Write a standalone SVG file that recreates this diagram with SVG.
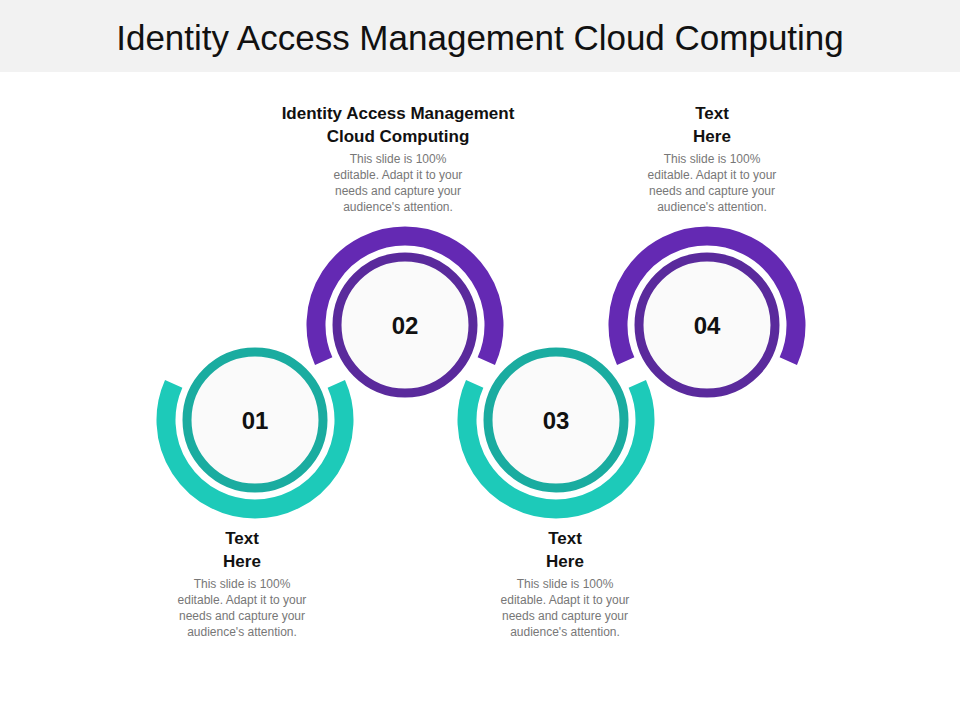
<svg xmlns="http://www.w3.org/2000/svg" width="960" height="720" viewBox="0 0 960 720">
<style>
.t{font-family:"Liberation Sans",Arial,sans-serif;text-anchor:middle}
.h{font-size:17px;font-weight:bold;fill:#111}
.b{font-size:12px;fill:#777}
.n{font-size:24px;font-weight:bold;fill:#111}
.arcT{fill:none;stroke:#1DCAB9;stroke-width:19}
.arcP{fill:none;stroke:#6429B3;stroke-width:19}
.ringT{fill:#FAFAFA;stroke:#1AACA0;stroke-width:9}
.ringP{fill:#FAFAFA;stroke:#5A2A9C;stroke-width:9}
</style>
<rect width="960" height="72" fill="#F2F2F2"/>
<text class="t" x="480" y="50" font-size="35" fill="#111">Identity Access Management Cloud Computing</text>
<g id="node01">
<path class="arcT" d="M173.7 383.8 A89 89 0 1 0 336.3 383.8"/>
<circle class="ringT" cx="255" cy="420" r="68"/>
<text class="t n" x="255" y="429">01</text>
<text class="t h" x="242" y="544">Text</text><text class="t h" x="242" y="567">Here</text>
<text class="t b" x="242" y="588">This slide is 100%</text>
<text class="t b" x="242" y="604">editable. Adapt it to your</text>
<text class="t b" x="242" y="620">needs and capture your</text>
<text class="t b" x="242" y="636">audience's attention.</text>
</g>
<g id="node02">
<path class="arcP" d="M323.7 361.2 A89 89 0 1 1 486.3 361.2"/>
<circle class="ringP" cx="405" cy="325" r="68"/>
<text class="t n" x="405" y="334">02</text>
<text class="t h" x="398" y="119">Identity Access Management</text><text class="t h" x="398" y="142">Cloud Computing</text>
<text class="t b" x="398" y="163">This slide is 100%</text>
<text class="t b" x="398" y="179">editable. Adapt it to your</text>
<text class="t b" x="398" y="195">needs and capture your</text>
<text class="t b" x="398" y="211">audience's attention.</text>
</g>
<g id="node03">
<path class="arcT" d="M474.7 383.8 A89 89 0 1 0 637.3 383.8"/>
<circle class="ringT" cx="556" cy="420" r="68"/>
<text class="t n" x="556" y="429">03</text>
<text class="t h" x="565" y="544">Text</text><text class="t h" x="565" y="567">Here</text>
<text class="t b" x="565" y="588">This slide is 100%</text>
<text class="t b" x="565" y="604">editable. Adapt it to your</text>
<text class="t b" x="565" y="620">needs and capture your</text>
<text class="t b" x="565" y="636">audience's attention.</text>
</g>
<g id="node04">
<path class="arcP" d="M625.7 361.2 A89 89 0 1 1 788.3 361.2"/>
<circle class="ringP" cx="707" cy="325" r="68"/>
<text class="t n" x="707" y="334">04</text>
<text class="t h" x="712" y="119">Text</text><text class="t h" x="712" y="142">Here</text>
<text class="t b" x="712" y="163">This slide is 100%</text>
<text class="t b" x="712" y="179">editable. Adapt it to your</text>
<text class="t b" x="712" y="195">needs and capture your</text>
<text class="t b" x="712" y="211">audience's attention.</text>
</g>
<g id="connectors"/>
</svg>
